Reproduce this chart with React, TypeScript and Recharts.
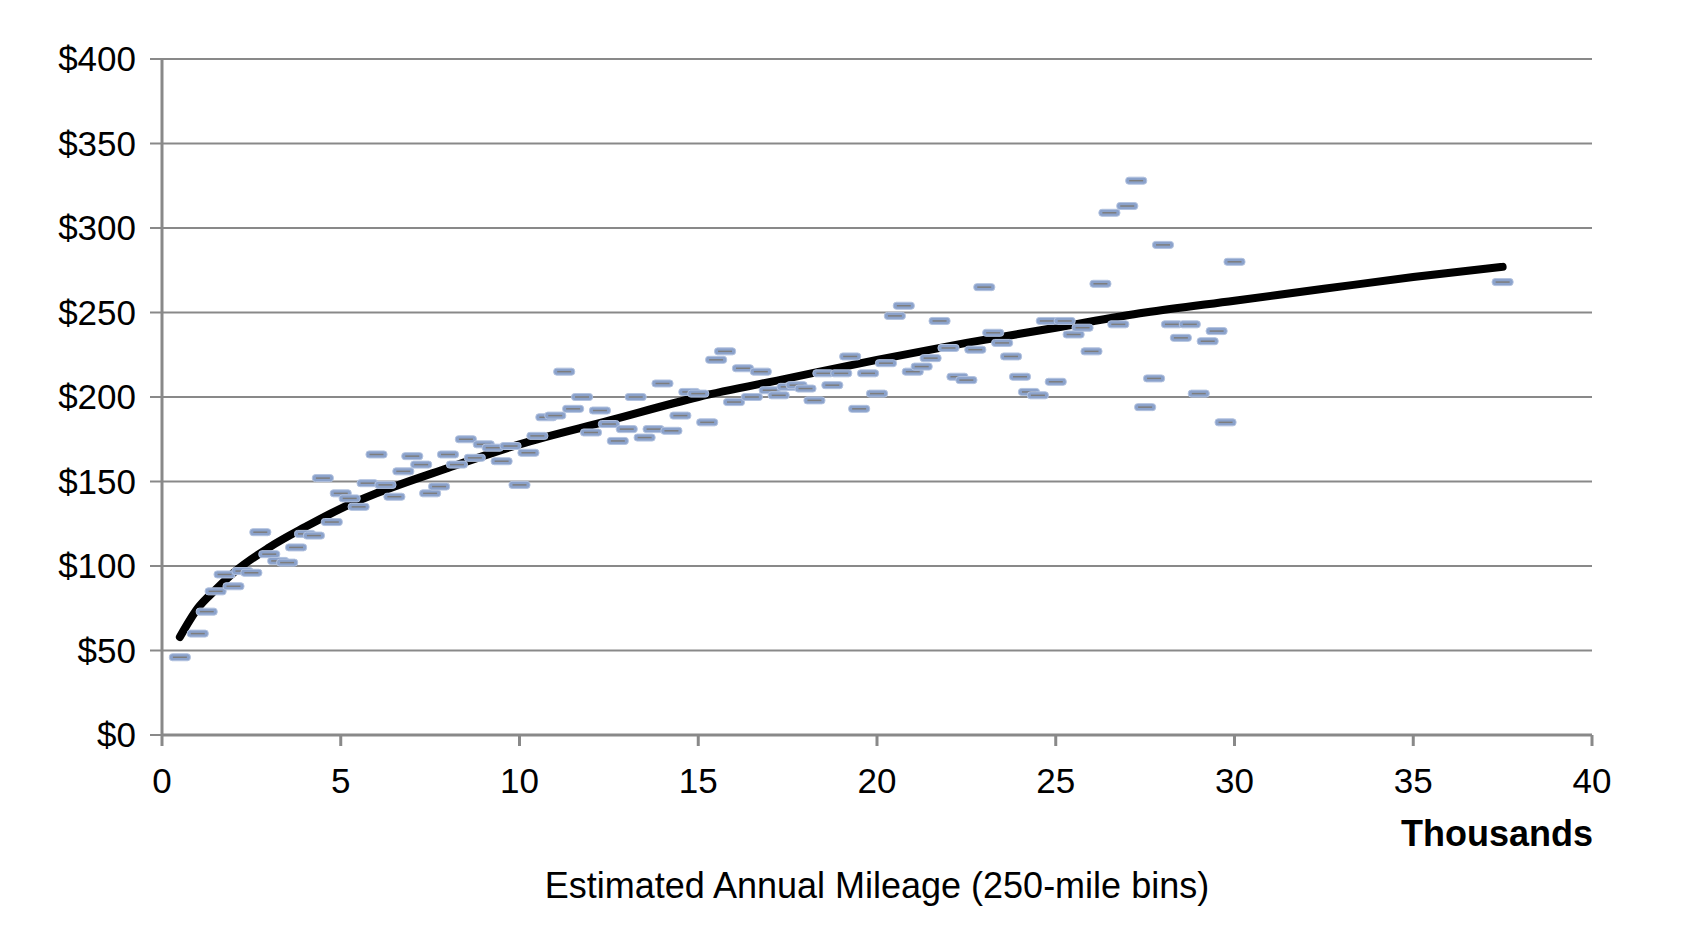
import { ComposedChart, Line, Scatter, XAxis, YAxis, CartesianGrid } from "recharts"

// average cost per 250-mile bin (mileage in thousands)
const binMileage = [
  0.5, 1, 1.25, 1.5, 1.75, 2, 2.25, 2.5, 2.75, 3, 3.25, 3.5, 3.75, 4, 4.25, 4.5, 4.75,
  5, 5.25, 5.5, 5.75, 6, 6.25, 6.5, 6.75, 7, 7.25, 7.5, 7.75, 8, 8.25, 8.5, 8.75, 9, 9.25, 9.5, 9.75,
  10, 10.25, 10.5, 10.75, 11, 11.25, 11.5, 11.75, 12, 12.25, 12.5, 12.75, 13, 13.25, 13.5, 13.75,
  14, 14.25, 14.5, 14.75, 15, 15.25, 15.5, 15.75, 16, 16.25, 16.5, 16.75, 17, 17.25, 17.5, 17.75,
  18, 18.25, 18.5, 18.75, 19, 19.25, 19.5, 19.75, 20, 20.25, 20.5, 20.75, 21, 21.25, 21.5, 21.75,
  22, 22.25, 22.5, 22.75, 23, 23.25, 23.5, 23.75, 24, 24.25, 24.5, 24.75, 25, 25.25, 25.5, 25.75,
  26, 26.25, 26.5, 26.75, 27, 27.25, 27.5, 27.75, 28, 28.25, 28.5, 28.75, 29, 29.25, 29.5, 29.75,
  30, 37.5,
]
const binCost = [
  46, 60, 73, 85, 95, 88, 97, 96, 120, 107, 103, 102, 111, 119, 118, 152, 126,
  143, 140, 135, 149, 166, 148, 141, 156, 165, 160, 143, 147, 166, 160, 175, 164, 172, 170, 162, 171,
  148, 167, 177, 188, 189, 215, 193, 200, 179, 192, 184, 174, 181, 200, 176, 181,
  208, 180, 189, 203, 202, 185, 222, 227, 197, 217, 200, 215, 204, 201, 206, 207,
  205, 198, 214, 207, 214, 224, 193, 214, 202, 220, 248, 254, 215, 218, 223, 245,
  229, 212, 210, 228, 265, 238, 232, 224, 212, 203, 201, 245, 209, 245, 237, 241,
  227, 267, 309, 243, 313, 328, 194, 211, 290, 243, 235, 243, 202, 233, 239, 185,
  280, 268,
]

// fitted trend
const trendMileage = [0.5, 1, 1.5, 2, 3, 4, 5, 6, 8, 10, 12.5, 15, 17.5, 20, 22.5, 25, 27.5, 30, 32.5, 35, 37.5]
const trendCost = [58, 75, 86, 96, 111, 123, 134, 143, 158, 172, 186, 200, 211, 222, 232, 241, 250, 257, 264, 271, 277]

const mileageTicks = [0, 5, 10, 15, 20, 25, 30, 35, 40]
const costTicks = [0, 50, 100, 150, 200, 250, 300, 350, 400]

const binPoints = binMileage.map((x, i) => ({ x, cost: binCost[i] }))
const trendPoints = trendMileage.map((x, i) => ({ x, cost: trendCost[i] }))

const GRAY = "#898989"
const FONT = '"Liberation Sans", Arial, Helvetica, sans-serif'

function DashMarker(props: any) {
  const { cx, cy } = props
  if (cx == null || cy == null) return null
  return (
    <g>
      <rect x={cx - 10.5} y={cy - 3.5} width={21} height={7} rx={3} fill="#8ba2cb" stroke="#b3c3e0" strokeWidth={1} />
      <line x1={cx - 7} x2={cx + 7} y1={cy} y2={cy} stroke="#7d7d7d" strokeWidth={1.5} />
    </g>
  )
}

export default function App() {
  return (
    <div style={{ position: "absolute", left: 0, top: 0, width: 1689, height: 929, background: "#fff", fontFamily: FONT }}>
      <ComposedChart width={1689} height={929} margin={{ top: 59, right: 97, bottom: 0, left: 0 }}>
        <CartesianGrid vertical={false} stroke={GRAY} strokeWidth={2} />
        <XAxis
          type="number"
          dataKey="x"
          domain={[0, 40]}
          ticks={mileageTicks}
          height={194}
          tickSize={11}
          tickMargin={22}
          axisLine={{ stroke: GRAY, strokeWidth: 3 }}
          tickLine={{ stroke: GRAY, strokeWidth: 3 }}
          tick={{ fill: "#000", fontSize: 35, fontFamily: FONT }}
        />
        <YAxis
          type="number"
          domain={[0, 400]}
          ticks={costTicks}
          width={162}
          tickSize={12}
          tickMargin={14}
          tickFormatter={(v: number) => `$${v}`}
          axisLine={{ stroke: GRAY, strokeWidth: 3 }}
          tickLine={{ stroke: GRAY, strokeWidth: 2 }}
          tick={{ fill: "#000", fontSize: 35, fontFamily: FONT }}
        />
        <Line
          data={trendPoints}
          dataKey="cost"
          type="monotone"
          stroke="#000"
          strokeWidth={8}
          strokeLinecap="round"
          dot={false}
          activeDot={false}
          isAnimationActive={false}
        />
        <Scatter data={binPoints} dataKey="cost" shape={DashMarker} isAnimationActive={false} />
      </ComposedChart>
      <div
        style={{
          position: "absolute",
          left: 1193,
          width: 400,
          top: 816,
          textAlign: "right",
          fontSize: 36,
          fontWeight: "bold",
          lineHeight: 1,
          color: "#000",
        }}
      >
        Thousands
      </div>
      <div
        style={{
          position: "absolute",
          left: 477,
          width: 800,
          top: 868,
          textAlign: "center",
          fontSize: 36,
          lineHeight: 1,
          color: "#000",
        }}
      >
        Estimated Annual Mileage (250-mile bins)
      </div>
    </div>
  )
}
